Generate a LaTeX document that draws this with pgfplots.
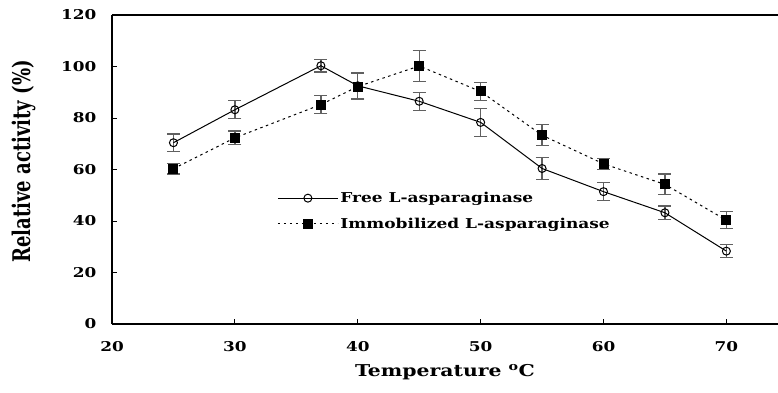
\documentclass[border=0pt]{standalone}
\usepackage{graphicx}
\usepackage{pgfplots}
\pgfplotsset{compat=1.18}
\usepackage{fontspec}
\setmainfont{DejaVu Serif}[FakeStretch=1.25]
\newfontfamily\ylabfont{DejaVu Serif}
\pgfplotstableread{
x y e
25 70.4 3.4
30 83.2 3.5
37 100.3 2.4
40 92.5 5.0
45 86.5 3.5
50 78.3 5.5
55 60.4 4.3
60 51.4 3.5
65 43.2 2.6
70 28.3 2.6
}\freedata
\pgfplotstableread{
x y e
25 60.3 2.0
30 72.3 2.6
37 85.2 3.5
40 92.2 5.0
45 100.2 6.0
50 90.3 3.4
55 73.3 4.1
60 62.2 2.2
65 54.2 4.0
70 40.3 3.3
}\immdata
\begin{document}
\begin{tikzpicture}[x=1pt,y=1pt]
\useasboundingbox (-112,-68) rectangle (666,324);
\begin{axis}[
  at={(0,0)}, anchor=south west,
  scale only axis, width=666pt, height=309pt,
  xmin=20, xmax=74.2, ymin=0, ymax=120,
  axis x line*=bottom, axis y line*=left,
  axis line style={line width=1.1pt},
  xtick={20,30,...,70}, ytick={0,20,...,120},
  tick align=inside, major tick length=5pt,
  tick style={black, line width=0.9pt},
  /pgf/number format/assume math mode=true,
  ticklabel style={font=\bfseries\fontsize{13.5}{14}\selectfont},
  xticklabel style={yshift=-14pt},
  yticklabel style={xshift=-12pt},
  xlabel={Temperature \textsuperscript{o}C},
  xlabel style={font=\bfseries\fontsize{16.3}{17}\selectfont, yshift=-6pt},
  ylabel={\scalebox{1}[1.35]{Relative activity (\%)}},
  ylabel style={font=\ylabfont\bfseries\fontsize{18}{18}\selectfont, yshift=18pt, xshift=8pt},
  legend style={draw=none, fill=none, at={(axis cs:33.2,52.8)}, anchor=north west,
    font=\bfseries\fontsize{13.6}{14}\selectfont, row sep=10pt,
    /tikz/every even column/.append style={column sep=2pt}},
  legend cell align=left,
  legend image code/.code={\draw[mark repeat=2,mark phase=2,#1] plot coordinates {(0pt,0pt) (30pt,0pt) (60pt,0pt)};},
  error bars/error bar style={gray!75!black, line width=1.3pt},
  error bars/error mark options={rotate=90, gray!75!black, mark size=6.5pt, line width=1.3pt},
  clip=false,
]
\addplot[draw=none, forget plot, error bars/.cd, y dir=both, y explicit]
  table[x=x, y=y, y error=e] {\freedata};
\addplot[draw=none, forget plot, error bars/.cd, y dir=both, y explicit]
  table[x=x, y=y, y error=e] {\immdata};
\addplot[black, line width=1pt, mark=o, mark options={solid, fill=white, line width=1pt}, mark size=4pt]
  table[x=x, y=y] {\freedata};
\addlegendentry{Free L-asparaginase}
\addplot[black, line width=1pt, dash pattern=on 2.5pt off 3.5pt, mark=square*, mark options={solid}, mark size=4.5pt]
  table[x=x, y=y] {\immdata};
\addlegendentry{Immobilized L-asparaginase}
\draw[line width=1.1pt] (rel axis cs:0,1) -- (rel axis cs:1,1);
\end{axis}
\end{tikzpicture}
\end{document}
